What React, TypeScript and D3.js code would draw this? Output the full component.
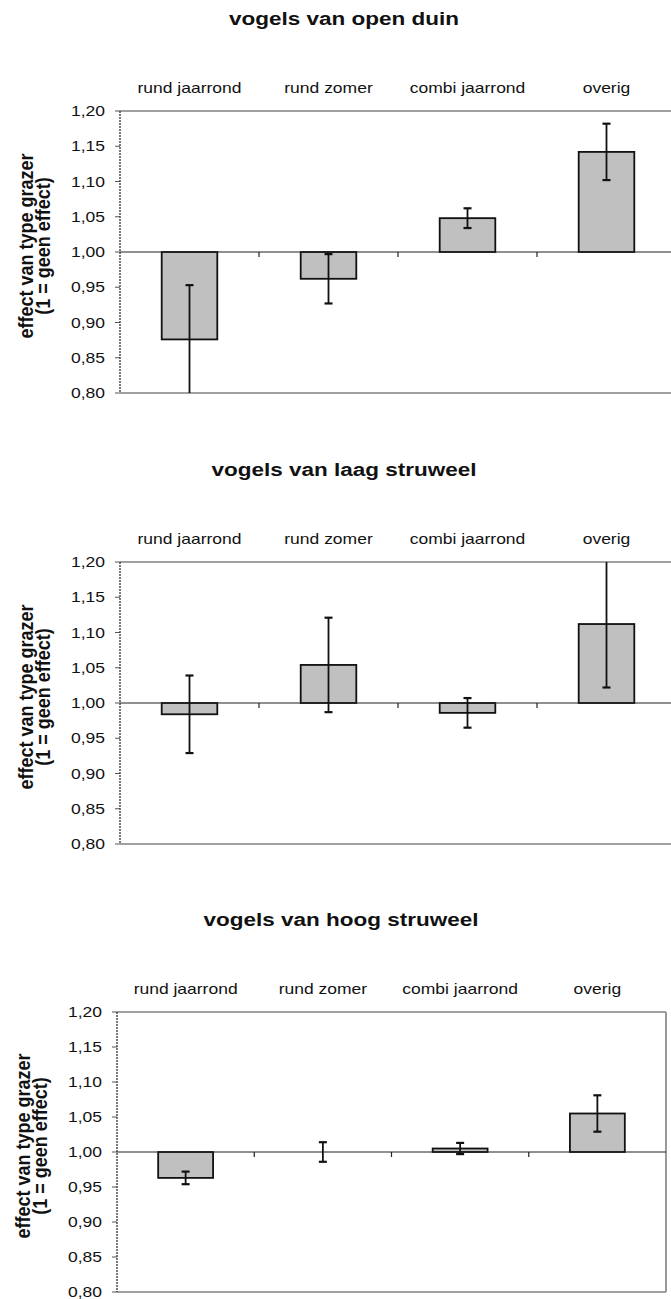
import React from "react";
import * as d3 from "d3";

// Grazer types along the top of each panel
const CATEGORIES = ["rund jaarrond", "rund zomer", "combi jaarrond", "overig"];

const PANEL_TITLES = [
  "vogels van open duin",
  "vogels van laag struweel",
  "vogels van hoog struweel",
];

// Estimated effect per grazer type (1 = no effect) and half-width of the error bar
const OPEN_DUIN_EFFECT = [0.876, 0.962, 1.048, 1.142];
const OPEN_DUIN_ERROR = [0.077, 0.035, 0.014, 0.04];

const LAAG_STRUWEEL_EFFECT = [0.984, 1.054, 0.986, 1.112];
const LAAG_STRUWEEL_ERROR = [0.055, 0.067, 0.021, 0.09];

const HOOG_STRUWEEL_EFFECT = [0.963, 1.0, 1.005, 1.055];
const HOOG_STRUWEEL_ERROR = [0.009, 0.014, 0.008, 0.026];

const Y_TICKS = [0.8, 0.85, 0.9, 0.95, 1.0, 1.05, 1.1, 1.15, 1.2];
const Y_DOMAIN: [number, number] = [0.8, 1.2];
const BASELINE = 1.0;
const Y_LABEL_LINES = ["effect van type grazer", "(1 = geen effect)"];

const FONT = "'Liberation Sans', Arial, Helvetica, sans-serif";
const SX = 1.25; // horizontal glyph stretch of the horizontal texts
const SX_ROTATED = 1.1; // cross-stretch of the rotated axis title

const formatTick = (v: number) => d3.format(".2f")(v).replace(".", ",");

type PanelLayout = { top: number; bottom: number; left: number; right: number };

const LAYOUTS: PanelLayout[] = [
  { top: 111, bottom: 393, left: 120, right: 676 },
  { top: 562, bottom: 844, left: 120, right: 676 },
  { top: 1012, bottom: 1292, left: 117, right: 666 },
];

const SERIES = [
  { values: OPEN_DUIN_EFFECT, errors: OPEN_DUIN_ERROR },
  { values: LAAG_STRUWEEL_EFFECT, errors: LAAG_STRUWEEL_ERROR },
  { values: HOOG_STRUWEEL_EFFECT, errors: HOOG_STRUWEEL_ERROR },
];

function StretchText(props: {
  x: number;
  y: number;
  anchor?: "start" | "middle" | "end";
  size: number;
  bold?: boolean;
  rotate?: number;
  sx?: number;
  children: React.ReactNode;
}) {
  const { x, y, anchor = "middle", size, bold, rotate, sx = SX, children } = props;
  return (
    <text
      transform={`translate(${x},${y}) scale(${sx},1)${rotate ? ` rotate(${rotate})` : ""}`}
      textAnchor={anchor}
      fontSize={size}
      fontWeight={bold ? "bold" : "normal"}
      fontFamily={FONT}
      fill="#111"
    >
      {children}
    </text>
  );
}

function Panel({ index }: { index: number }) {
  const L = LAYOUTS[index];
  const { values, errors } = SERIES[index];

  const x = d3.scaleBand<string>().domain(CATEGORIES).range([L.left, L.right]).padding(0);
  const y = d3.scaleLinear().domain(Y_DOMAIN).range([L.bottom, L.top]);

  const barW = x.bandwidth() * 0.4;
  const y0 = y(BASELINE);
  const midY = y0 - 6;
  const capW = 8;

  return (
    <g>
      {/* title */}
      <StretchText x={L.left + 224} y={L.top - 86} size={18} bold>
        {PANEL_TITLES[index]}
      </StretchText>

      {/* category labels above the plot */}
      {CATEGORIES.map((c) => (
        <StretchText key={c} x={x(c)! + x.bandwidth() / 2} y={L.top - 18} size={14}>
          {c}
        </StretchText>
      ))}

      {/* frame: top, right and bottom in grey */}
      <line x1={L.left} x2={L.right} y1={L.top} y2={L.top} stroke="#808080" strokeWidth={1.6} />
      <line x1={L.right} x2={L.right} y1={L.top} y2={L.bottom} stroke="#808080" strokeWidth={1.6} />
      <line x1={L.left} x2={L.right} y1={L.bottom} y2={L.bottom} stroke="#808080" strokeWidth={1.6} />

      {/* y axis ticks and labels */}
      {Y_TICKS.map((t) => (
        <g key={t}>
          <line x1={L.left - 5} x2={L.left} y1={y(t)} y2={y(t)} stroke="#555" strokeWidth={1} />
          <StretchText x={L.left - 15} y={y(t) + 5} size={14} anchor="end">
            {formatTick(t)}
          </StretchText>
        </g>
      ))}
      <line
        x1={L.left}
        x2={L.left}
        y1={L.top}
        y2={L.bottom}
        stroke="#333"
        strokeWidth={1.3}
        strokeDasharray="2 1"
      />

      {/* y axis title, two lines reading upward */}
      <StretchText x={L.left - 87} y={midY} size={18} bold rotate={-90} sx={SX_ROTATED}>
        {Y_LABEL_LINES[0]}
      </StretchText>
      <StretchText x={L.left - 70} y={midY} size={18} bold rotate={-90} sx={SX_ROTATED}>
        {Y_LABEL_LINES[1]}
      </StretchText>

      {/* bars from the 1.00 baseline */}
      {CATEGORIES.map((c, i) => {
        const cx = x(c)! + x.bandwidth() / 2;
        const yv = y(values[i]);
        return (
          <rect
            key={c}
            x={cx - barW / 2}
            y={Math.min(yv, y0)}
            width={barW}
            height={Math.abs(yv - y0)}
            fill="#c0c0c0"
            stroke="#111"
            strokeWidth={1.8}
          />
        );
      })}

      {/* baseline at 1.00 with category separator ticks */}
      <line x1={L.left} x2={L.right} y1={y0} y2={y0} stroke="#222" strokeWidth={1.2} />
      {CATEGORIES.slice(1).map((c) => (
        <line key={c} x1={x(c)!} x2={x(c)!} y1={y0} y2={y0 + 5} stroke="#222" strokeWidth={1.2} />
      ))}

      {/* error bars, clipped to the axis range */}
      {CATEGORIES.map((c, i) => {
        const cx = x(c)! + x.bandwidth() / 2;
        const lo = values[i] - errors[i];
        const hi = values[i] + errors[i];
        const loC = Math.max(lo, Y_DOMAIN[0]);
        const hiC = Math.min(hi, Y_DOMAIN[1]);
        return (
          <g key={c} stroke="#111">
            <line x1={cx} x2={cx} y1={y(loC)} y2={y(hiC)} strokeWidth={1.8} />
            {hi <= Y_DOMAIN[1] && (
              <line x1={cx - capW / 2} x2={cx + capW / 2} y1={y(hi)} y2={y(hi)} strokeWidth={2.2} />
            )}
            {lo >= Y_DOMAIN[0] && (
              <line x1={cx - capW / 2} x2={cx + capW / 2} y1={y(lo)} y2={y(lo)} strokeWidth={2.2} />
            )}
          </g>
        );
      })}
    </g>
  );
}

export default function App() {
  return (
    <svg
      width={671}
      height={1299}
      viewBox="0 0 671 1299"
      style={{ position: "absolute", left: 0, top: 0, background: "#fff" }}
    >
      <rect x={0} y={0} width={671} height={1299} fill="#fff" />
      {PANEL_TITLES.map((_, i) => (
        <Panel key={i} index={i} />
      ))}
    </svg>
  );
}
